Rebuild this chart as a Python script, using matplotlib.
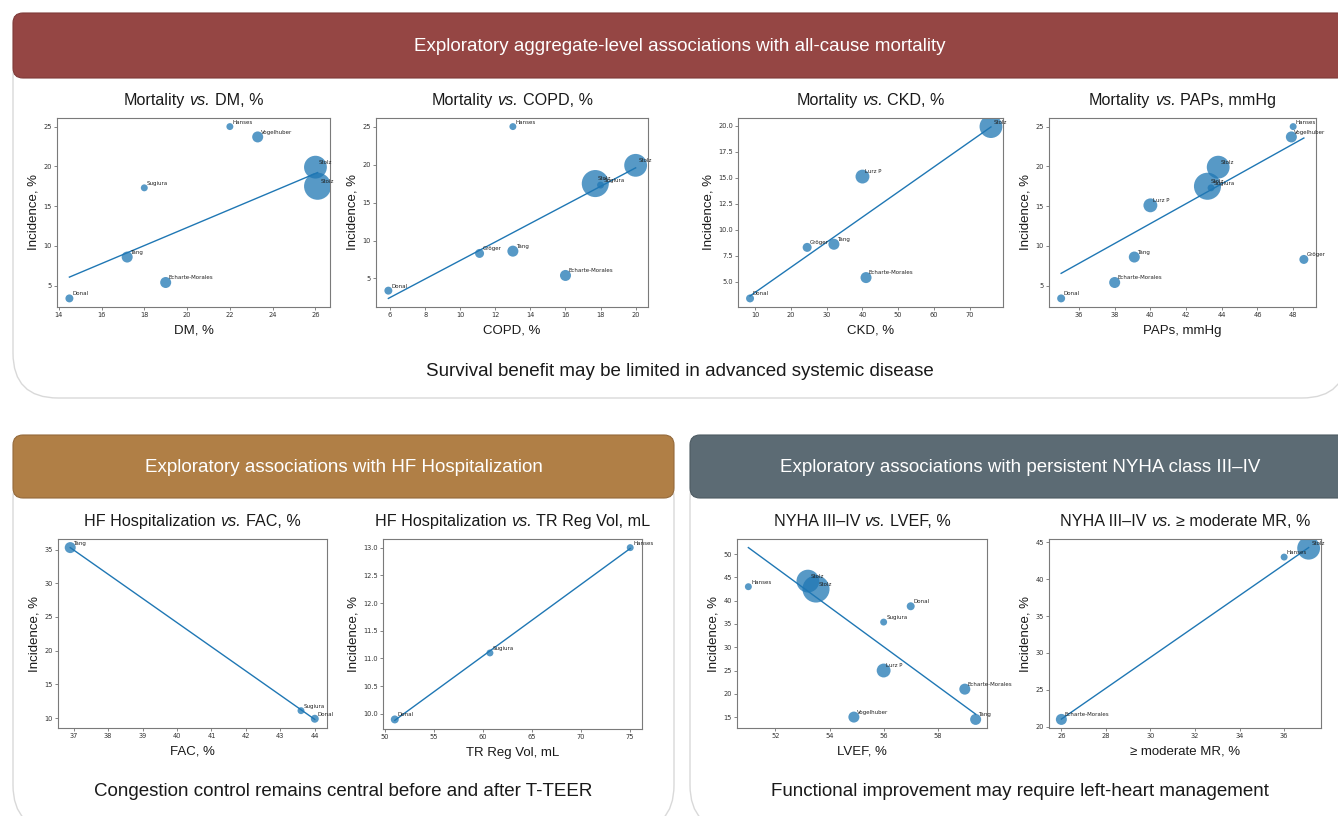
import matplotlib
matplotlib.use("Agg")
import matplotlib.pyplot as plt
from matplotlib.patches import FancyBboxPatch
from matplotlib.ticker import MultipleLocator
import numpy as np

W, H = 1338, 816
UI_FONT = "Liberation Sans"
BLUE = "#1f77b4"
INK = "#1a1a1a"

# bubble area per study (proportional to study size)
STUDY_WEIGHT = {
    "Hanses": 25, "Sugiura": 25, "Donal": 33, "Gröger": 42,
    "Tang": 63, "Vogelhuber": 63, "Echarte-Morales": 63,
    "Lurz P": 100, "Stolz A": 270, "Stolz B": 380,
}
DISPLAY_NAME = {"Stolz A": "Stolz", "Stolz B": "Stolz"}

# outcome incidence, %
MORTALITY = {
    "Donal": 3.4, "Tang": 8.6, "Sugiura": 17.3, "Echarte-Morales": 5.4,
    "Hanses": 25.0, "Vogelhuber": 23.7, "Stolz A": 19.9, "Stolz B": 17.5,
    "Gröger": 8.3, "Lurz P": 15.1,
}
HF_HOSP = {"Tang": 35.3, "Sugiura": 11.1, "Donal": 9.9, "Hanses": 13.0}
NYHA = {
    "Hanses": 43.0, "Stolz A": 44.2, "Stolz B": 42.5, "Vogelhuber": 15.0,
    "Sugiura": 35.4, "Lurz P": 25.0, "Donal": 38.8, "Echarte-Morales": 21.0,
    "Tang": 14.5,
}

# covariates per panel
DM_STUDIES = ["Donal", "Tang", "Sugiura", "Echarte-Morales", "Hanses", "Vogelhuber", "Stolz A", "Stolz B"]
DM_X = [14.5, 17.2, 18.0, 19.0, 22.0, 23.3, 26.0, 26.1]

COPD_STUDIES = ["Donal", "Gröger", "Tang", "Hanses", "Echarte-Morales", "Stolz B", "Sugiura", "Stolz A"]
COPD_X = [5.9, 11.1, 13.0, 13.0, 16.0, 17.7, 18.0, 20.0]

CKD_STUDIES = ["Donal", "Gröger", "Tang", "Lurz P", "Echarte-Morales", "Stolz A"]
CKD_X = [8.5, 24.5, 32.0, 40.0, 41.0, 76.0]

PAPS_STUDIES = ["Donal", "Echarte-Morales", "Tang", "Lurz P", "Stolz B", "Sugiura", "Stolz A", "Vogelhuber", "Hanses", "Gröger"]
PAPS_X = [35.0, 38.0, 39.1, 40.0, 43.2, 43.4, 43.8, 47.9, 48.0, 48.6]

FAC_STUDIES = ["Tang", "Sugiura", "Donal"]
FAC_X = [36.9, 43.6, 44.0]

TRVOL_STUDIES = ["Donal", "Sugiura", "Hanses"]
TRVOL_X = [51.0, 60.7, 75.0]

LVEF_STUDIES = ["Hanses", "Stolz A", "Stolz B", "Vogelhuber", "Sugiura", "Lurz P", "Donal", "Echarte-Morales", "Tang"]
LVEF_X = [51.0, 53.2, 53.5, 54.9, 56.0, 56.0, 57.0, 59.0, 59.4]

MR_STUDIES = ["Echarte-Morales", "Hanses", "Stolz A"]
MR_X = [26.0, 36.0, 37.1]

PANELS = [
    # (title before "vs.", title after), xlabel, studies, x, outcome, box px (l, t, r, b), x step, y step
    (("Mortality", "DM, %"), "DM, %", DM_STUDIES, DM_X, MORTALITY, (57, 118, 330, 307), 2, 5),
    (("Mortality", "COPD, %"), "COPD, %", COPD_STUDIES, COPD_X, MORTALITY, (376, 118, 648, 307), 2, 5),
    (("Mortality", "CKD, %"), "CKD, %", CKD_STUDIES, CKD_X, MORTALITY, (738, 118, 1003, 307), 10, 2.5),
    (("Mortality", "PAPs, mmHg"), "PAPs, mmHg", PAPS_STUDIES, PAPS_X, MORTALITY, (1049, 118, 1316, 307), 2, 5),
    (("HF Hospitalization", "FAC, %"), "FAC, %", FAC_STUDIES, FAC_X, HF_HOSP, (58, 539, 327, 728), 1, 5),
    (("HF Hospitalization", "TR Reg Vol, mL"), "TR Reg Vol, mL", TRVOL_STUDIES, TRVOL_X, HF_HOSP, (383, 539, 642, 729), 5, 0.5),
    (("NYHA III–IV", "LVEF, %"), "LVEF, %", LVEF_STUDIES, LVEF_X, NYHA, (737, 539, 987, 728), 2, 5),
    (("NYHA III–IV", "≥ moderate MR, %"), "≥ moderate MR, %", MR_STUDIES, MR_X, NYHA, (1049, 539, 1321, 728), 2, 5),
]


def px_rect(left, top, right, bottom):
    return [left / W, 1 - bottom / H, (right - left) / W, (bottom - top) / H]


def text_width(renderer, s, **kw):
    t = bg.text(0, 0, s, **kw)
    w = t.get_window_extent(renderer).width
    t.remove()
    return w


def draw_section(x0, x1, banner_top, banner_bottom, body_bottom, color, edge, title):
    body = FancyBboxPatch((x0, banner_top + 20), x1 - x0, body_bottom - banner_top - 20,
                          boxstyle="round,pad=0,rounding_size=45",
                          fc="white", ec="#d9d9d9", lw=1.0, zorder=1)
    bg.add_patch(body)
    banner = FancyBboxPatch((x0, banner_top), x1 - x0, banner_bottom - banner_top,
                            boxstyle="round,pad=0,rounding_size=10",
                            fc=color, ec=edge, lw=0.8, zorder=2)
    bg.add_patch(banner)
    bg.text((x0 + x1) / 2, (banner_top + banner_bottom) / 2 + 1, title,
            ha="center", va="center", color="white", fontsize=13.5,
            family=UI_FONT, zorder=3)


def draw_title(renderer, left, right, baseline, before, after):
    kw = dict(fontsize=11.6, family=UI_FONT, color=INK)
    sp = text_width(renderer, "x x", **kw) - text_width(renderer, "xx", **kw)
    pieces = [(before, "normal"), ("vs.", "italic"), (after, "normal")]
    widths = [text_width(renderer, s, style=st, **kw) for s, st in pieces]
    total = sum(widths) + 2 * sp
    x = (left + right) / 2 - total / 2
    for (s, st), w in zip(pieces, widths):
        bg.text(x, baseline, s, style=st, ha="left", va="baseline", zorder=3, **kw)
        x += w + sp


fig = plt.figure(figsize=(W / 100, H / 100), dpi=100)
bg = fig.add_axes([0, 0, 1, 1])
bg.set_xlim(0, W)
bg.set_ylim(H, 0)
bg.axis("off")
renderer = fig.canvas.get_renderer()

draw_section(13, 1347, 13, 78, 398, "#954644", "#7f3a38",
             "Exploratory aggregate-level associations with all-cause mortality")
draw_section(13, 674, 435, 498, 830, "#b07f46", "#94693a",
             "Exploratory associations with HF Hospitalization")
draw_section(690, 1350, 435, 498, 830, "#5c6b74", "#4c5a62",
             "Exploratory associations with persistent NYHA class III–IV")

bg.text(680, 371, "Survival benefit may be limited in advanced systemic disease",
        ha="center", va="center", fontsize=13.5, color=INK, family=UI_FONT, zorder=3)
bg.text(343, 791, "Congestion control remains central before and after T-TEER",
        ha="center", va="center", fontsize=13.5, color=INK, family=UI_FONT, zorder=3)
bg.text(1020, 791, "Functional improvement may require left-heart management",
        ha="center", va="center", fontsize=13.5, color=INK, family=UI_FONT, zorder=3)

for (before, after), xlabel, studies, xs, outcome, box, xstep, ystep in PANELS:
    ax = fig.add_axes(px_rect(*box))
    x = np.array(xs)
    y = np.array([outcome[s] for s in studies])
    wts = np.array([STUDY_WEIGHT[s] for s in studies], dtype=float)

    ax.scatter(x, y, s=wts, color=BLUE, alpha=0.75, edgecolors="none")
    coef = np.polyfit(x, y, 1, w=np.sqrt(wts))
    xl = np.array([x.min(), x.max()])
    ax.plot(xl, np.polyval(coef, xl), color=BLUE, lw=1.0)

    for s, xi, yi in zip(studies, x, y):
        ax.annotate(DISPLAY_NAME.get(s, s), (xi, yi), xytext=(2, 1.5),
                    textcoords="offset points", fontsize=4.0, color="#222222",
                    ha="left", va="bottom")

    ax.xaxis.set_major_locator(MultipleLocator(xstep))
    ax.yaxis.set_major_locator(MultipleLocator(ystep))
    ax.tick_params(labelsize=4.8, length=2, width=0.5, pad=1.5,
                   colors="#555555", labelcolor="#333333")
    for sp in ax.spines.values():
        sp.set_color("#7a7a7a")
        sp.set_linewidth(0.8)

    ax.set_xlabel(xlabel, fontsize=9.5, family=UI_FONT, color=INK, labelpad=5)
    ax.set_ylabel("Incidence, %", fontsize=9.5, family=UI_FONT, color=INK, labelpad=3)

    draw_title(renderer, box[0], box[2], box[1] - 13, before, after)

fig.savefig("out.png", dpi=100)
